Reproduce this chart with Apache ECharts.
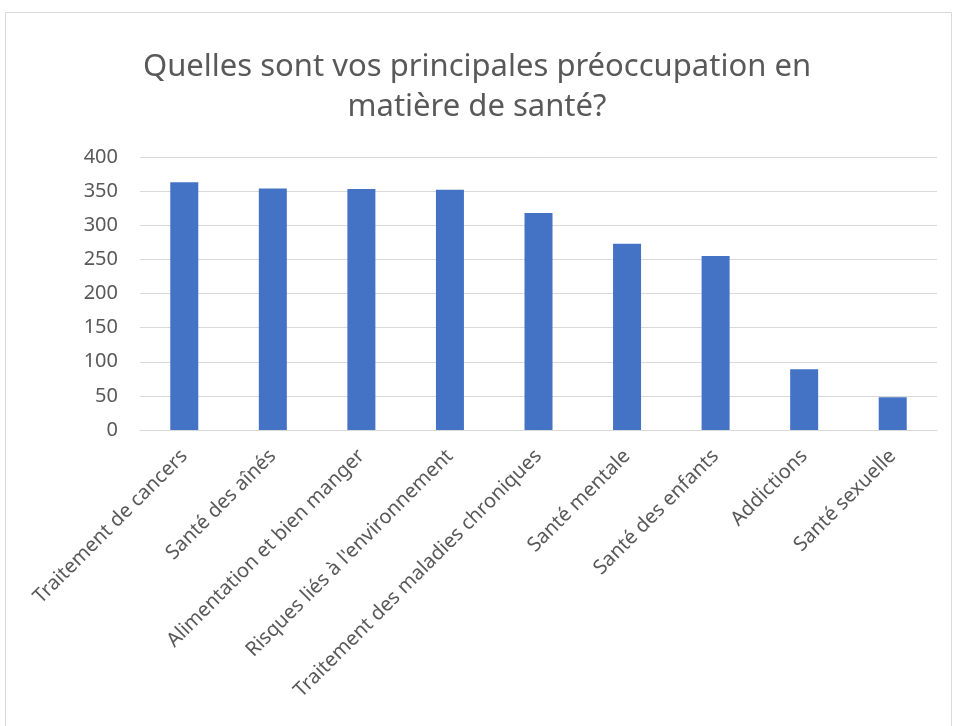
<!DOCTYPE html>
<html>
<head>
<meta charset="utf-8">
<script src="https://cdn.jsdelivr.net/npm/echarts@6/dist/echarts.min.js"></script>
<style>
  html, body { margin: 0; padding: 0; background: #ffffff; }
  #chart { width: 954px; height: 726px; }
</style>
</head>
<body>
<div id="chart"></div>
<script>
// Survey answers: main health concerns
const categories = [
  'Traitement de cancers',
  'Santé des aînés',
  'Alimentation et bien manger',
  "Risques liés à l'environnement",
  'Traitement des maladies chroniques',
  'Santé mentale',
  'Santé des enfants',
  'Addictions',
  'Santé sexuelle'
];
const responses = [363, 354, 353, 352, 318, 273, 255, 89, 48];
const yTicks = { min: 0, max: 400, interval: 50 };

const textGrey = '#595959';
const fontFamily = '"Noto Sans", "Open Sans", sans-serif';

const chart = echarts.init(document.getElementById('chart'), null, { renderer: 'canvas' });
chart.setOption({
  backgroundColor: '#ffffff',
  animation: false,
  title: {
    text: 'Quelles sont vos principales préoccupation en\nmatière de santé?',
    left: 'center',
    top: 42,
    textStyle: {
      color: textGrey,
      fontFamily: fontFamily,
      fontWeight: 'normal',
      fontSize: 31,
      lineHeight: 40
    }
  },
  graphic: [{
    type: 'rect',
    shape: { x: 5.5, y: 12.5, width: 946, height: 720 },
    style: { fill: 'none', stroke: '#d9d9d9', lineWidth: 1 },
    silent: true
  }],
  grid: { left: 140, right: 17, top: 157, bottom: 296 },
  xAxis: {
    type: 'category',
    data: categories,
    axisLine: { show: true, lineStyle: { color: '#d9d9d9', width: 1 } },
    axisTick: { show: false },
    axisLabel: {
      interval: 0,
      rotate: 45,
      color: textGrey,
      fontFamily: fontFamily,
      fontSize: 20,
      margin: 23
    }
  },
  yAxis: {
    type: 'value',
    min: yTicks.min,
    max: yTicks.max,
    interval: yTicks.interval,
    axisLine: { show: false },
    axisTick: { show: false },
    splitLine: { lineStyle: { color: '#d9d9d9', width: 1 } },
    axisLabel: {
      color: textGrey,
      fontFamily: fontFamily,
      fontSize: 20,
      margin: 22
    }
  },
  series: [{
    type: 'bar',
    data: responses,
    barWidth: 28,
    itemStyle: { color: '#4472C4' }
  }]
});
</script>
</body>
</html>
